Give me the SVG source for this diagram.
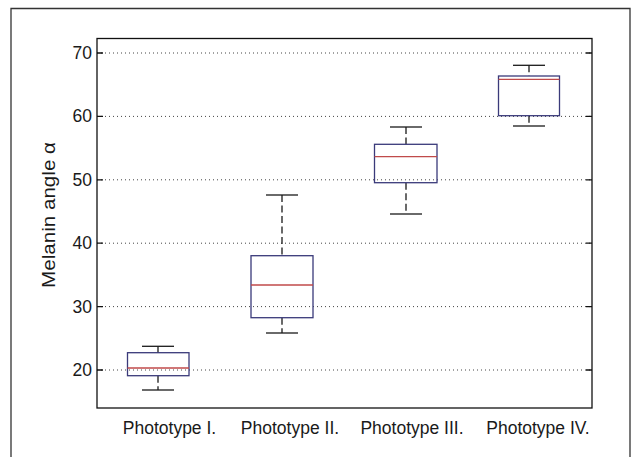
<svg xmlns="http://www.w3.org/2000/svg" width="634" height="457" viewBox="0 0 634 457">
<style>
  text { font-family: "Liberation Sans", Arial, sans-serif; fill: #1a1a1a; }
  .tick { font-size: 17.5px; text-anchor: end; }
  .cat { font-size: 17.5px; text-anchor: middle; }
  .grid { stroke: #444; stroke-width: 1; stroke-dasharray: 1 3; fill: none; }
  .axis { stroke: #111; stroke-width: 1.3; fill: none; }
  .box { fill: none; stroke: #3a3a7a; stroke-width: 1.3; }
  .med { stroke: #c04a4a; stroke-width: 1.3; }
  .wh { stroke: #1a1a1a; stroke-width: 1.3; stroke-dasharray: 7 3.5; }
  .cap { stroke: #1a1a1a; stroke-width: 1.3; }
</style>
<rect width="634" height="457" fill="#fff"/>
<path d="M11,457 V8.5 H630 V457" fill="none" stroke="#333" stroke-width="1.3"/>
<g id="grid">
  <line class="grid" x1="97" y1="53" x2="592" y2="53"/>
  <line class="grid" x1="97" y1="116.4" x2="592" y2="116.4"/>
  <line class="grid" x1="97" y1="179.8" x2="592" y2="179.8"/>
  <line class="grid" x1="97" y1="243.2" x2="592" y2="243.2"/>
  <line class="grid" x1="97" y1="306.6" x2="592" y2="306.6"/>
  <line class="grid" x1="97" y1="370" x2="592" y2="370"/>
</g>
<g id="axes">
  <rect class="axis" x="97" y="38.5" width="495" height="369.5"/>
  <path class="axis" d="M97,53 h6 M97,116.4 h6 M97,179.8 h6 M97,243.2 h6 M97,306.6 h6 M97,370 h6 M592,53 h-6 M592,116.4 h-6 M592,179.8 h-6 M592,243.2 h-6 M592,306.6 h-6 M592,370 h-6"/>
  <text class="tick" x="92" y="59">70</text>
  <text class="tick" x="92" y="122.4">60</text>
  <text class="tick" x="92" y="185.8">50</text>
  <text class="tick" x="92" y="249.2">40</text>
  <text class="tick" x="92" y="312.6">30</text>
  <text class="tick" x="92" y="376">20</text>
  <text transform="translate(55,215) rotate(-90)" text-anchor="middle" font-size="17.5" textLength="146" lengthAdjust="spacingAndGlyphs">Melanin angle α</text>
</g>
<g id="box1">
  <line class="wh" x1="158" y1="346.3" x2="158" y2="352.7"/>
  <line class="wh" x1="158" y1="375.7" x2="158" y2="390"/>
  <line class="cap" x1="142" y1="346.3" x2="174" y2="346.3"/>
  <line class="cap" x1="142" y1="390" x2="174" y2="390"/>
  <rect class="box" x="127.5" y="352.7" width="61.5" height="23"/>
  <line class="med" x1="127.5" y1="368" x2="189" y2="368"/>
  <text class="cat" x="169.5" y="434">Phototype I.</text>
</g>
<g id="box2">
  <line class="wh" x1="282" y1="195" x2="282" y2="255.7"/>
  <line class="wh" x1="282" y1="317.7" x2="282" y2="333"/>
  <line class="cap" x1="266" y1="195" x2="298" y2="195"/>
  <line class="cap" x1="266" y1="333" x2="298" y2="333"/>
  <rect class="box" x="251" y="255.7" width="62" height="62"/>
  <line class="med" x1="251" y1="285" x2="313" y2="285"/>
  <text class="cat" x="290" y="434">Phototype II.</text>
</g>
<g id="box3">
  <line class="wh" x1="406" y1="127" x2="406" y2="144.3"/>
  <line class="wh" x1="406" y1="182.7" x2="406" y2="214"/>
  <line class="cap" x1="390" y1="127" x2="422" y2="127"/>
  <line class="cap" x1="390" y1="214" x2="422" y2="214"/>
  <rect class="box" x="374.5" y="144.3" width="62.5" height="38.4"/>
  <line class="med" x1="374.5" y1="156.7" x2="437" y2="156.7"/>
  <text class="cat" x="412" y="434">Phototype III.</text>
</g>
<g id="box4">
  <line class="wh" x1="529" y1="65.3" x2="529" y2="76"/>
  <line class="wh" x1="529" y1="115.7" x2="529" y2="126"/>
  <line class="cap" x1="513" y1="65.3" x2="545" y2="65.3"/>
  <line class="cap" x1="513" y1="126" x2="545" y2="126"/>
  <rect class="box" x="498.5" y="76" width="61" height="39.7"/>
  <line class="med" x1="498.5" y1="79.3" x2="559.5" y2="79.3"/>
  <text class="cat" x="538" y="434">Phototype IV.</text>
</g>
</svg>
